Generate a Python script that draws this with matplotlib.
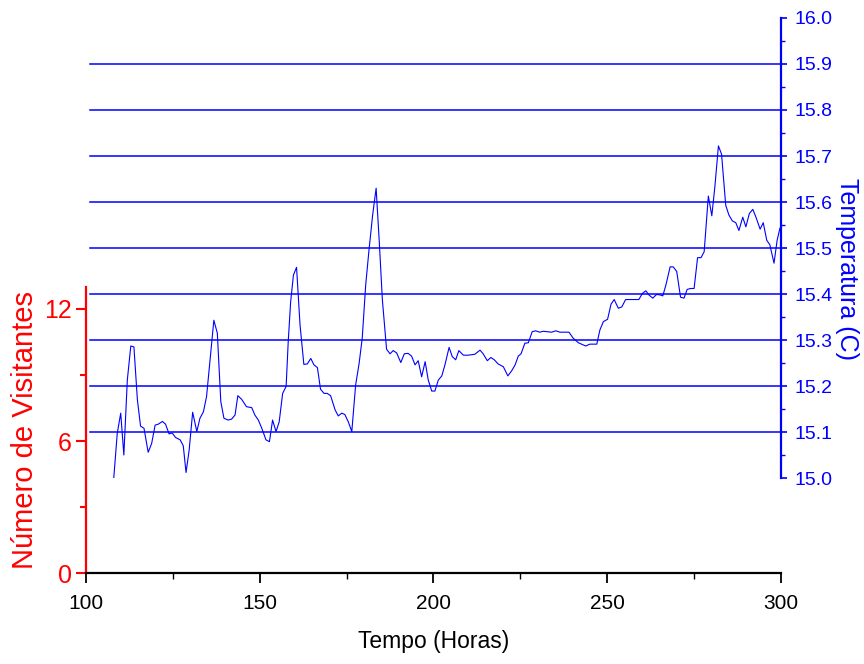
import matplotlib
matplotlib.use("Agg")
import matplotlib.pyplot as plt
from matplotlib.ticker import MultipleLocator

plt.rcParams['font.family'] = ['Liberation Sans', 'DejaVu Sans']

# Tempo (horas) e temperatura
horas = [108.0, 109.0, 110.0, 110.9, 111.9, 112.9, 113.8, 114.8, 115.7, 116.7,
         117.9, 118.9, 119.9, 120.8, 122.0, 122.9, 123.9, 124.8, 125.8, 127.1,
         128.0, 128.8, 129.7, 130.7, 131.9, 132.8, 133.8, 134.7, 135.7, 136.8,
         137.8, 138.8, 139.7, 140.9, 141.9, 142.9, 143.7, 144.8, 146.2, 147.7,
         148.6, 149.6, 150.6, 151.8, 152.8, 153.7, 154.7, 155.6, 156.6, 157.6,
         158.2, 158.9, 159.7, 160.6, 161.6, 162.7, 163.7, 164.7, 165.6, 166.6,
         167.5, 168.5, 169.4, 170.4, 171.7, 172.6, 173.6, 174.5, 175.5, 176.5,
         177.6, 178.6, 179.5, 180.5, 181.4, 182.5, 183.5, 184.4, 185.3, 186.5,
         187.5, 188.4, 189.4, 190.6, 191.6, 192.7, 193.7, 194.7, 195.6, 196.6,
         197.6, 198.5, 199.5, 200.4, 201.4, 202.4, 203.3, 204.5, 205.4, 206.4,
         207.3, 208.6, 210.0, 211.9, 213.4, 214.3, 215.5, 216.5, 217.5, 218.6,
         220.1, 221.4, 222.5, 223.5, 224.4, 225.2, 226.3, 227.3, 228.4, 229.4,
         230.6, 231.6, 234.0, 235.2, 236.4, 239.0, 240.2, 241.7, 243.8, 245.0,
         247.0, 247.9, 248.9, 250.1, 251.1, 252.0, 253.2, 254.2, 255.3, 259.1,
         260.1, 261.1, 262.0, 263.1, 264.2, 265.2, 266.0, 266.9, 268.1, 269.0,
         270.0, 271.1, 272.1, 273.0, 274.0, 275.0, 276.0, 277.0, 277.9, 279.1,
         280.1, 281.0, 282.0, 282.9, 284.1, 285.0, 286.0, 287.0, 287.9, 289.0,
         289.9, 290.9, 291.9, 292.8, 294.0, 294.9, 295.9, 296.8, 298.0, 298.9,
         299.7]
temperatura = [15.000, 15.097, 15.141, 15.050, 15.213, 15.287, 15.285, 15.170, 15.113, 15.108,
               15.056, 15.075, 15.115, 15.117, 15.123, 15.117, 15.096, 15.098, 15.088, 15.083,
               15.070, 15.012, 15.061, 15.143, 15.101, 15.130, 15.144, 15.177, 15.257, 15.343,
               15.315, 15.166, 15.130, 15.126, 15.128, 15.137, 15.179, 15.171, 15.155, 15.153,
               15.137, 15.126, 15.108, 15.083, 15.079, 15.126, 15.101, 15.122, 15.184, 15.199,
               15.296, 15.383, 15.441, 15.458, 15.333, 15.247, 15.248, 15.260, 15.246, 15.240,
               15.193, 15.184, 15.184, 15.179, 15.148, 15.135, 15.141, 15.138, 15.122, 15.101,
               15.202, 15.249, 15.304, 15.420, 15.492, 15.572, 15.630, 15.514, 15.387, 15.280,
               15.270, 15.277, 15.272, 15.251, 15.270, 15.271, 15.265, 15.246, 15.255, 15.220,
               15.253, 15.213, 15.189, 15.189, 15.213, 15.222, 15.246, 15.284, 15.264, 15.257,
               15.277, 15.267, 15.267, 15.269, 15.278, 15.270, 15.255, 15.262, 15.257, 15.248,
               15.242, 15.222, 15.233, 15.246, 15.265, 15.270, 15.293, 15.294, 15.318, 15.320,
               15.317, 15.319, 15.317, 15.320, 15.317, 15.317, 15.304, 15.294, 15.287, 15.291,
               15.291, 15.322, 15.340, 15.345, 15.378, 15.388, 15.369, 15.372, 15.388, 15.388,
               15.401, 15.407, 15.398, 15.391, 15.399, 15.398, 15.396, 15.420, 15.459, 15.459,
               15.449, 15.393, 15.391, 15.410, 15.412, 15.412, 15.479, 15.479, 15.492, 15.613,
               15.570, 15.635, 15.722, 15.704, 15.593, 15.572, 15.559, 15.555, 15.538, 15.567,
               15.546, 15.575, 15.584, 15.567, 15.541, 15.555, 15.517, 15.507, 15.467, 15.517,
               15.543]

grade_temp = [15.1, 15.2, 15.3, 15.4, 15.5, 15.6, 15.7, 15.8, 15.9]

azul = '#0000FF'
vermelho = '#FF0000'

fig = plt.figure(figsize=(8.64, 6.64), dpi=100)

# eixo esquerdo (visitantes) + eixo x
ax1 = fig.add_axes([0.0995, 0.137, 0.8044, 0.4308])
ax1.set_xlim(100, 300)
ax1.set_ylim(0, 13)
ax1.patch.set_alpha(0)
for s in ['top', 'right']:
    ax1.spines[s].set_visible(False)
ax1.spines['left'].set_color(vermelho)
ax1.spines['left'].set_linewidth(1.6)
ax1.spines['bottom'].set_color('black')
ax1.spines['bottom'].set_linewidth(1.6)
ax1.xaxis.set_major_locator(MultipleLocator(50))
ax1.xaxis.set_minor_locator(MultipleLocator(25))
ax1.yaxis.set_major_locator(MultipleLocator(6))
ax1.yaxis.set_minor_locator(MultipleLocator(3))
ax1.tick_params(axis='x', which='major', length=7, width=1.3, labelsize=15, pad=8)
ax1.tick_params(axis='x', which='minor', length=4, width=1.0)
ax1.tick_params(axis='y', which='major', length=7, width=1.5, color=vermelho,
                labelcolor=vermelho, labelsize=18, pad=3)
ax1.tick_params(axis='y', which='minor', length=4, width=1.5, color=vermelho)
ax1.set_xlabel('Tempo (Horas)', fontsize=16.5, labelpad=12)
ax1.set_ylabel('Número de Visitantes', fontsize=21, color=vermelho, labelpad=4)

# eixo direito (temperatura)
ax2 = fig.add_axes([0.0995, 0.2801, 0.8044, 0.6928])
ax2.set_xlim(100, 300)
ax2.set_ylim(15.0, 16.0)
ax2.patch.set_alpha(0)
for s in ['top', 'left', 'bottom']:
    ax2.spines[s].set_visible(False)
ax2.spines['right'].set_color(azul)
ax2.spines['right'].set_linewidth(1.6)
ax2.xaxis.set_visible(False)
ax2.yaxis.tick_right()
ax2.yaxis.set_major_locator(MultipleLocator(0.1))
ax2.yaxis.set_minor_locator(MultipleLocator(0.05))
ax2.tick_params(axis='y', which='major', length=4, width=1.2, color=azul,
                labelcolor=azul, labelsize=14, pad=6)
ax2.tick_params(axis='y', which='minor', length=3, width=1.0, color=azul)
fig.text(847 / 864, 1 - 269 / 664, 'Temperatura (C)', fontsize=18, color=azul,
         rotation=-90, ha='center', va='center')

for g in grade_temp:
    ax2.axhline(g, xmin=0.006, xmax=1, color=azul, linewidth=1.1)

ax2.plot(horas, temperatura, color=azul, linewidth=0.8)

fig.savefig('out.png', dpi=100)
